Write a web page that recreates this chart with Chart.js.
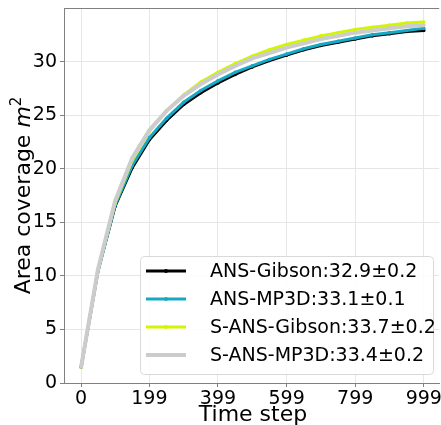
<!DOCTYPE html>
<html><head><meta charset="utf-8">
<script src="https://cdn.jsdelivr.net/npm/chart.js@4/dist/chart.umd.min.js"></script>
<style>html,body{margin:0;padding:0;background:#fff;overflow:hidden}#wrap{width:441px;height:425px}</style>
</head><body><div id="wrap"><canvas id="c" width="441" height="425"></canvas></div>
<script>
const steps = [0,49,99,149,199,249,299,349,399,449,499,549,599,649,699,749,799,849,899,949,999];
const ansGibson  = [1.5,10.5,16.5,20.1,22.7,24.5,26.0,27.1,28.0,28.8,29.5,30.1,30.6,31.1,31.5,31.8,32.1,32.4,32.6,32.8,32.9];
const ansMP3D    = [1.5,10.4,16.6,20.3,22.9,24.7,26.2,27.3,28.2,29.0,29.6,30.2,30.7,31.2,31.6,31.9,32.2,32.5,32.7,32.9,33.1];
const sansGibson = [1.5,10.6,16.8,20.8,23.5,25.4,26.9,28.1,29.0,29.8,30.5,31.1,31.6,32.0,32.4,32.7,33.0,33.2,33.4,33.6,33.7];
const sansMP3D   = [1.5,10.6,17.0,21.0,23.6,25.4,26.8,27.9,28.8,29.6,30.3,30.8,31.3,31.7,32.1,32.4,32.7,32.9,33.1,33.3,33.4];
const seriesLabels = ['ANS-Gibson:32.9\u00b10.2','ANS-MP3D:33.1\u00b10.1','S-ANS-Gibson:33.7\u00b10.2','S-ANS-MP3D:33.4\u00b10.2'];
const xTicks = [0,199,399,599,799,999];
const yTicks = [0,5,10,15,20,25,30];

const FONT = '"DejaVu Sans", sans-serif';
const colors = ['#000000','#17a8c4','#d4f500','#cccccc'];
const widths = [3,3,3,4];
const seriesData = [ansGibson, ansMP3D, sansGibson, sansMP3D];

const datasets = seriesData.map((arr,i)=>({
  label: seriesLabels[i],
  data: steps.map((s,j)=>({x:s,y:arr[j]})),
  borderColor: colors[i], backgroundColor: colors[i],
  borderWidth: widths[i], pointRadius: 1.8, pointHoverRadius:1.8,
  pointBorderWidth: 0, tension: 0, order: 3-i, fill:false
}));

const decor = {
  id:'decor',
  afterDraw(chart){
    const ctx = chart.ctx, ca = chart.chartArea;
    ctx.save();
    ctx.strokeStyle = '#808080'; ctx.lineWidth = 1;
    ctx.beginPath(); ctx.moveTo(ca.left, ca.top+0.5); ctx.lineTo(ca.right, ca.top+0.5); ctx.stroke();
    ctx.fillStyle = '#000'; ctx.font = '22px ' + FONT;
    ctx.textAlign = 'center'; ctx.textBaseline = 'alphabetic';
    ctx.fillText('Time step', 253, 421);
    ctx.save();
    ctx.translate(30, (ca.top+ca.bottom)/2);
    ctx.rotate(-Math.PI/2);
    const p1 = 'Area coverage ', p2 = 'm', p3 = '2';
    ctx.font = '22px ' + FONT; const w1 = ctx.measureText(p1).width;
    ctx.font = 'italic 22px ' + FONT; const w2 = ctx.measureText(p2).width;
    ctx.font = '15px ' + FONT; const w3 = ctx.measureText(p3).width;
    let x0 = -(w1+w2+w3)/2;
    ctx.textAlign = 'left';
    ctx.font = '22px ' + FONT; ctx.fillText(p1, x0, 0);
    ctx.font = 'italic 22px ' + FONT; ctx.fillText(p2, x0+w1, 0);
    ctx.font = '15px ' + FONT; ctx.fillText(p3, x0+w1+w2, -9);
    ctx.restore();
    const bx = 140.5, by = 256.5, bw = 293, bh = 118;
    ctx.fillStyle = 'rgba(255,255,255,0.85)';
    ctx.strokeStyle = '#d9d9d9'; ctx.lineWidth = 1;
    ctx.beginPath();
    if (ctx.roundRect) ctx.roundRect(bx,by,bw,bh,4); else ctx.rect(bx,by,bw,bh);
    ctx.fill(); ctx.stroke();
    ctx.font = '19px ' + FONT; ctx.textBaseline = 'middle'; ctx.textAlign='left';
    chart.data.datasets.forEach((ds,i)=>{
      const yy = 271 + i*28;
      ctx.strokeStyle = ds.borderColor; ctx.lineWidth = ds.borderWidth;
      ctx.beginPath(); ctx.moveTo(146, yy); ctx.lineTo(186, yy); ctx.stroke();
      ctx.fillStyle = ds.borderColor;
      ctx.beginPath(); ctx.arc(166, yy, 2, 0, Math.PI*2); ctx.fill();
      ctx.fillStyle = '#000';
      ctx.fillText(ds.label, 210, yy+1);
    });
    ctx.restore();
  }
};

const noPad = s => { s.paddingTop = 0; s.paddingBottom = 0; s.paddingLeft = 0; s.paddingRight = 0; };

new Chart(document.getElementById('c'), {
  type: 'line',
  data: { datasets },
  options: {
    responsive: false, animation: false, events: [],
    layout: { padding: { top: 8, right: 0, left: 0, bottom: 0 } },
    plugins: { legend: { display: false }, tooltip: { enabled: false } },
    scales: {
      x: {
        type: 'linear', min: -50, max: 1044,
        afterBuildTicks: s => { s.ticks = xTicks.map(v=>({value:v})); },
        afterFit: s => { s.height = 42; noPad(s); },
        ticks: { font: { family: FONT, size: 19 }, color: '#000', padding: 1, maxRotation: 0, autoSkip: false,
                 callback: v => String(v) },
        grid: { color: '#e6e6e6', borderDash: [2,2], tickLength: 4, tickColor: '#808080', tickBorderDash: [], drawTicks: true },
        border: { color: '#808080', width: 1 }
      },
      y: {
        type: 'linear', min: 0, max: 35,
        afterBuildTicks: s => { s.ticks = yTicks.map(v=>({value:v})); },
        afterFit: s => { s.width = 64; noPad(s); },
        ticks: { font: { family: FONT, size: 19 }, color: '#000', padding: 3, callback: v => String(v) },
        grid: { color: '#e6e6e6', borderDash: [2,2], tickLength: 4, tickColor: '#808080', tickBorderDash: [] },
        border: { color: '#808080', width: 1 }
      }
    }
  },
  plugins: [decor]
});
</script></body></html>
